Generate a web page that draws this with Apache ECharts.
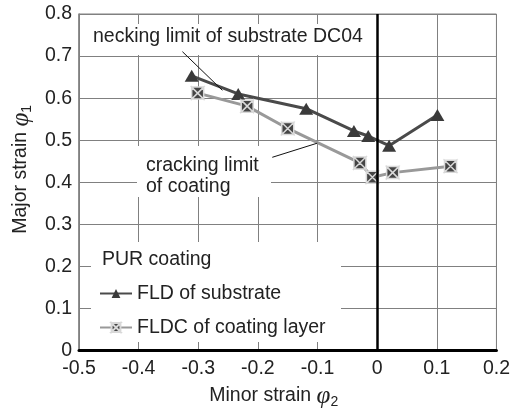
<!DOCTYPE html>
<html><head><meta charset="utf-8">
<script src="https://cdn.jsdelivr.net/npm/echarts@6/dist/echarts.min.js"></script>
<style>html,body{margin:0;padding:0;background:#fff}#c{width:513px;height:414px}</style>
</head><body><div id="c"></div>
<script>
// ---- data ----
const xMin = -0.5, xMax = 0.2, xStep = 0.1;
const yMin = 0, yMax = 0.8, yStep = 0.1;
const substrateX = [-0.311, -0.233, -0.119, -0.039, -0.015, 0.020, 0.101];
const substrateY = [0.653, 0.610, 0.575, 0.522, 0.510, 0.487, 0.560];
const coatingX = [-0.301, -0.218, -0.150, -0.029, -0.008, 0.026, 0.123];
const coatingY = [0.612, 0.581, 0.528, 0.446, 0.412, 0.423, 0.438];
const seriesNames = ['FLD of substrate', 'FLDC of coating layer'];
const legendTitle = 'PUR coating';
const neckingLabel = 'necking limit of substrate DC04';
const crackingLabel = ['cracking limit', 'of coating'];
const neckingLeader = [[-0.3266, 0.7105], [-0.2596, 0.6186]];
const crackingLeader = [[-0.1759, 0.4594], [-0.1005, 0.4930]];

const FONT = '"Liberation Sans", Arial, sans-serif';
const FS = 19.5;
const zip = (xs, ys) => xs.map((x, i) => [x, ys[i]]);
const squareX = 'path://M0,0L10,0L5,5Z M10,0L10,10L5,5Z M10,10L0,10L5,5Z M0,10L0,0L5,5Z';
const fmt = v => (Math.abs(v) < 1e-9 ? '0' : String(Math.round(v * 10) / 10));

const chart = echarts.init(document.getElementById('c'), null, {renderer: 'canvas'});
chart.setOption({
  animation: false,
  backgroundColor: '#fff',
  grid: {left: 79, right: 16, top: 14, bottom: 61, show: true, borderColor: '#808080', borderWidth: 1},
  xAxis: {
    type: 'value', min: xMin, max: xMax, interval: xStep,
    axisLine: {show: true, onZero: false, lineStyle: {color: '#000', width: 3}},
    axisTick: {show: false},
    splitLine: {show: true, lineStyle: {color: '#808080', width: 1}},
    axisLabel: {fontFamily: FONT, fontSize: FS, color: '#222', margin: 8, formatter: fmt},
    name: '{a|Minor strain }{p|φ}{s|2}', nameLocation: 'middle', nameGap: 30,
    nameTextStyle: {padding: [0, 28, 0, 0], rich: {
      a: {fontFamily: FONT, fontSize: FS, color: '#222'},
      p: {fontFamily: '"Liberation Serif", serif', fontStyle: 'italic', fontSize: 25, color: '#222'},
      s: {fontFamily: FONT, fontSize: 14, color: '#222', verticalAlign: 'bottom', padding: [12, 0, 0, 0]}
    }}
  },
  yAxis: {
    type: 'value', min: yMin, max: yMax, interval: yStep,
    axisLine: {show: true, onZero: false, lineStyle: {color: '#808080', width: 1.5}},
    axisTick: {show: false},
    splitLine: {show: true, lineStyle: {color: '#808080', width: 1}},
    axisLabel: {fontFamily: FONT, fontSize: FS, color: '#222', margin: 7, formatter: fmt},
    name: '{a|Major strain }{p|φ}{s|1}', nameLocation: 'middle', nameGap: 34, nameRotate: 90,
    nameTextStyle: {padding: [0, 0, 0, 26], rich: {
      a: {fontFamily: FONT, fontSize: FS, color: '#222'},
      p: {fontFamily: '"Liberation Serif", serif', fontStyle: 'italic', fontSize: 25, color: '#222'},
      s: {fontFamily: FONT, fontSize: 14, color: '#222', verticalAlign: 'bottom', padding: [12, 0, 0, 0]}
    }}
  },
  legend: {
    orient: 'vertical', left: 99, top: 283, padding: 0, itemWidth: 32, itemHeight: 11, itemGap: 13,
    textStyle: {fontFamily: FONT, fontSize: FS, color: '#222', lineHeight: 21},
    data: seriesNames, selectedMode: false
  },
  graphic: [
    {type: 'rect', z: 1, silent: true, shape: {x: 86, y: 24, width: 284, height: 31}, style: {fill: '#fff'}},
    {type: 'rect', z: 1, silent: true, shape: {x: 137, y: 146, width: 134, height: 51}, style: {fill: '#fff'}},
    {type: 'rect', z: 1, silent: true, shape: {x: 91, y: 242, width: 250, height: 100}, style: {fill: '#fff'}},
    {type: 'text', z: 5, silent: true, left: 93, top: 27, style: {text: neckingLabel, font: FS + 'px ' + FONT, fill: '#222'}},
    {type: 'text', z: 5, silent: true, left: 146, top: 155, style: {text: crackingLabel.join('\n'), font: FS + 'px ' + FONT, fill: '#222', lineHeight: 21}},
    {type: 'text', z: 5, silent: true, left: 102, top: 250, style: {text: legendTitle, font: FS + 'px ' + FONT, fill: '#222'}}
  ],
  series: [
    {
      name: seriesNames[0], type: 'line', data: zip(substrateX, substrateY), z: 3,
      symbol: 'triangle', symbolSize: [14, 12],
      lineStyle: {color: '#4a4a4a', width: 3},
      itemStyle: {color: '#3a3a3a'},
      markLine: {
        silent: true, symbol: 'none', label: {show: false}, animation: false,
        data: [
          [{coord: [0, yMin], lineStyle: {color: '#000', width: 2.5, type: 'solid'}}, {coord: [0, yMax]}]
        ]
      }
    },
    {
      name: seriesNames[1], type: 'line', data: zip(coatingX, coatingY), z: 4,
      symbol: squareX, symbolSize: 12,
      lineStyle: {color: '#999', width: 3},
      itemStyle: {color: '#444', borderColor: '#d8d8d8', borderWidth: 1.5},
      markLine: {
        silent: true, symbol: 'none', label: {show: false}, animation: false,
        lineStyle: {color: '#111', width: 1, type: 'solid'},
        data: [
          [{coord: neckingLeader[0]}, {coord: neckingLeader[1]}],
          [{coord: crackingLeader[0]}, {coord: crackingLeader[1]}]
        ]
      }
    }
  ]
});
</script></body></html>
